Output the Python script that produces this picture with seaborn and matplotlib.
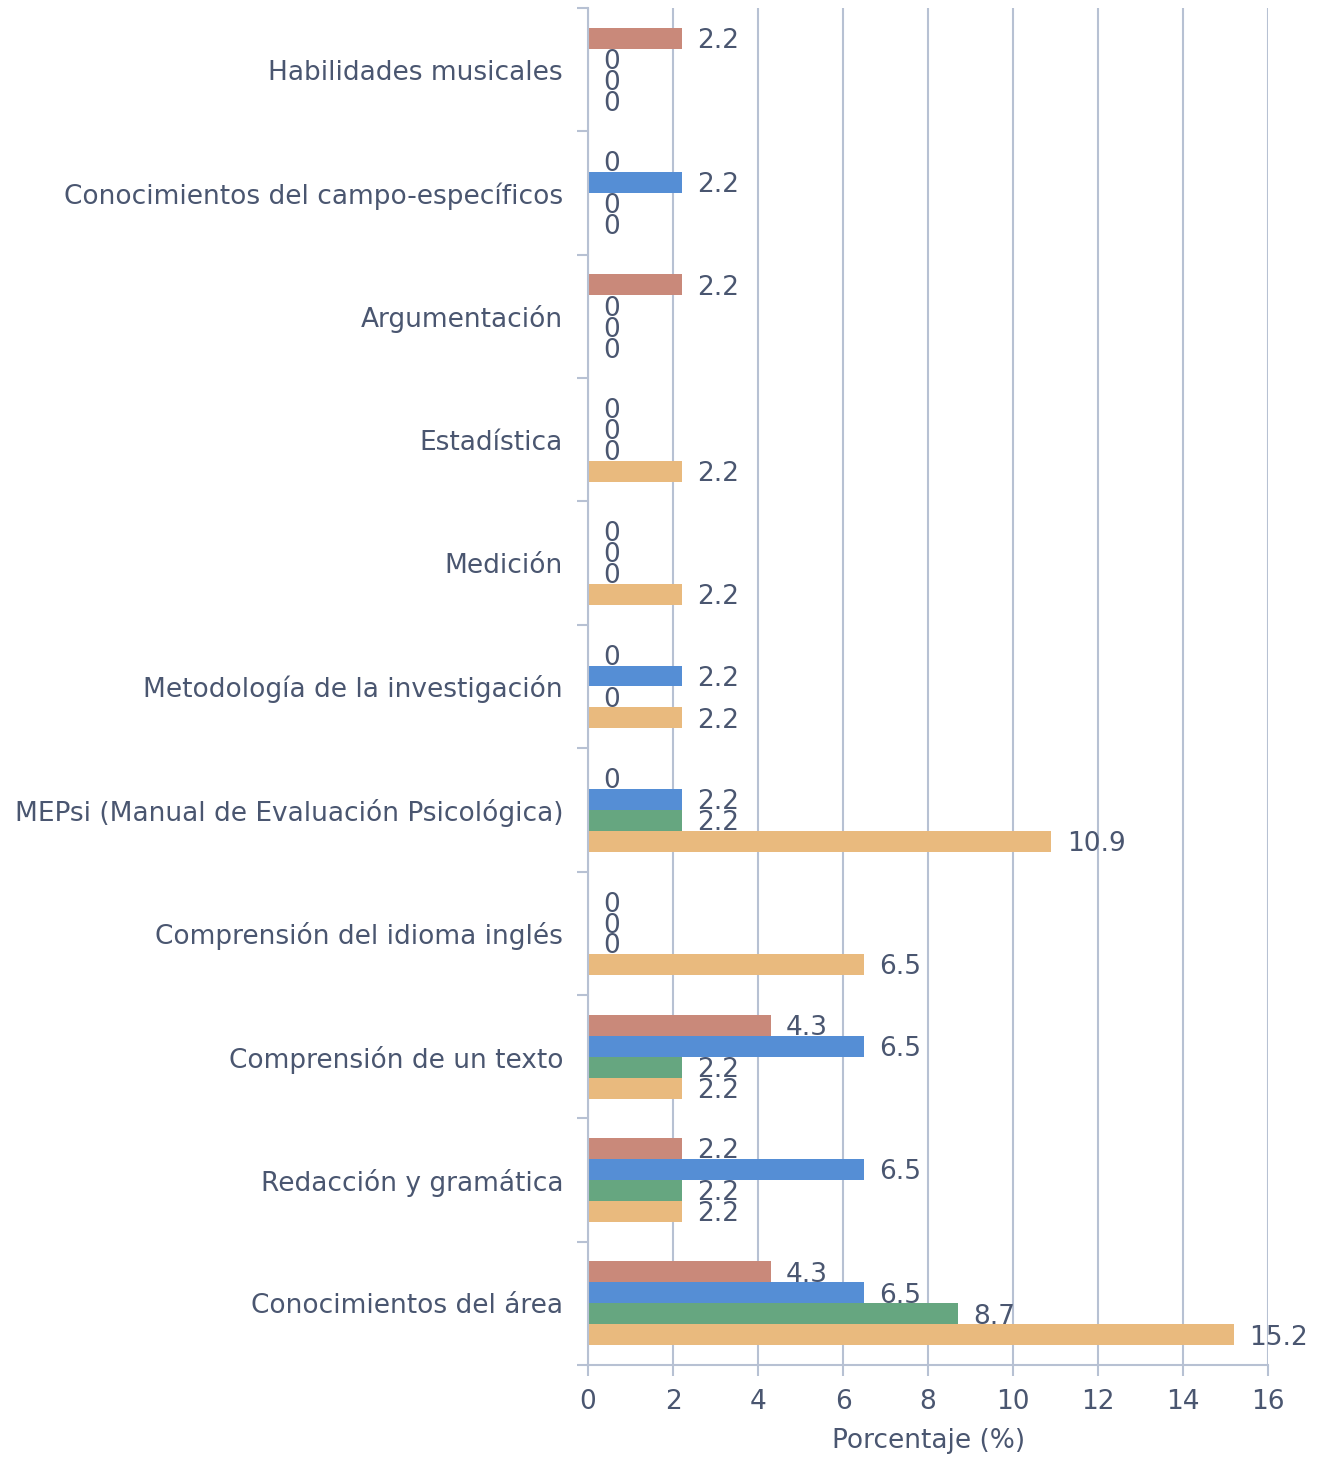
import numpy as np
import pandas as pd
import matplotlib
matplotlib.use("Agg")
import matplotlib.pyplot as plt
from matplotlib.ticker import FixedLocator
import seaborn as sns

# Categories, top to bottom as in the chart
categorias = [
    "Habilidades musicales",
    "Conocimientos del campo-específicos",
    "Argumentación",
    "Estadística",
    "Medición",
    "Metodología de la investigación",
    "MEPsi (Manual de Evaluación Psicológica)",
    "Comprensión del idioma inglés",
    "Comprensión de un texto",
    "Redacción y gramática",
    "Conocimientos del área",
]

series = ["Serie 1", "Serie 2", "Serie 3", "Serie 4"]

serie_1 = [2.2, 0, 2.2, 0, 0, 0, 0, 0, 4.3, 2.2, 4.3]
serie_2 = [0, 2.2, 0, 0, 0, 2.2, 2.2, 0, 6.5, 6.5, 6.5]
serie_3 = [0, 0, 0, 0, 0, 0, 2.2, 0, 2.2, 2.2, 8.7]
serie_4 = [0, 0, 0, 2.2, 2.2, 2.2, 10.9, 6.5, 2.2, 2.2, 15.2]

colores = ["#C9897A", "#558ED5", "#66A680", "#E9BA7E"]
texto = "#4A5670"
rejilla = "#B7C1D3"

df = pd.DataFrame({
    "categoria": categorias * 4,
    "serie": np.repeat(series, len(categorias)),
    "valor": serie_1 + serie_2 + serie_3 + serie_4,
})

sns.set_theme(style="white")
plt.rcParams["font.family"] = ["DejaVu Sans"]

fig = plt.figure(figsize=(13.2, 14.58), dpi=100)
ax = fig.add_axes([0.4455, 0.0638, 0.5152, 0.9307])

sns.barplot(data=df, y="categoria", x="valor", hue="serie", order=categorias,
            hue_order=series, palette=colores, orient="h", width=0.68,
            saturation=1, linewidth=0, legend=False, ax=ax)

for cont in ax.containers:
    anns = ax.bar_label(cont, labels=[f"{b.get_width():g}" for b in cont],
                        padding=11, fontsize=19, color=texto)
    for a in anns:
        a.xyann = (11, -2)

ax.set_xlim(0, 16)
ax.set_ylim(len(categorias) - 0.5, -0.5)
ax.set_xticks(np.arange(0, 17, 2))
ax.xaxis.grid(True, color=rejilla, linewidth=1.5)
ax.set_axisbelow(True)

ax.yaxis.set_minor_locator(FixedLocator(np.arange(-0.5, len(categorias), 1)))
ax.tick_params(axis="y", which="major", length=0, pad=18, labelsize=19, labelcolor=texto)
ax.tick_params(axis="y", which="minor", length=8, width=1.5, color=rejilla, left=True)
ax.tick_params(axis="x", which="major", length=8, width=1.5, color=rejilla, bottom=True,
               labelsize=19, labelcolor=texto, pad=9)

for lado in ["top", "right"]:
    ax.spines[lado].set_visible(False)
for lado in ["left", "bottom"]:
    ax.spines[lado].set_color(rejilla)
    ax.spines[lado].set_linewidth(1.5)

ax.set_ylabel("")
ax.set_xlabel("Porcentaje (%)", fontsize=19, color=texto, labelpad=10)

fig.savefig("out.png", dpi=100)
